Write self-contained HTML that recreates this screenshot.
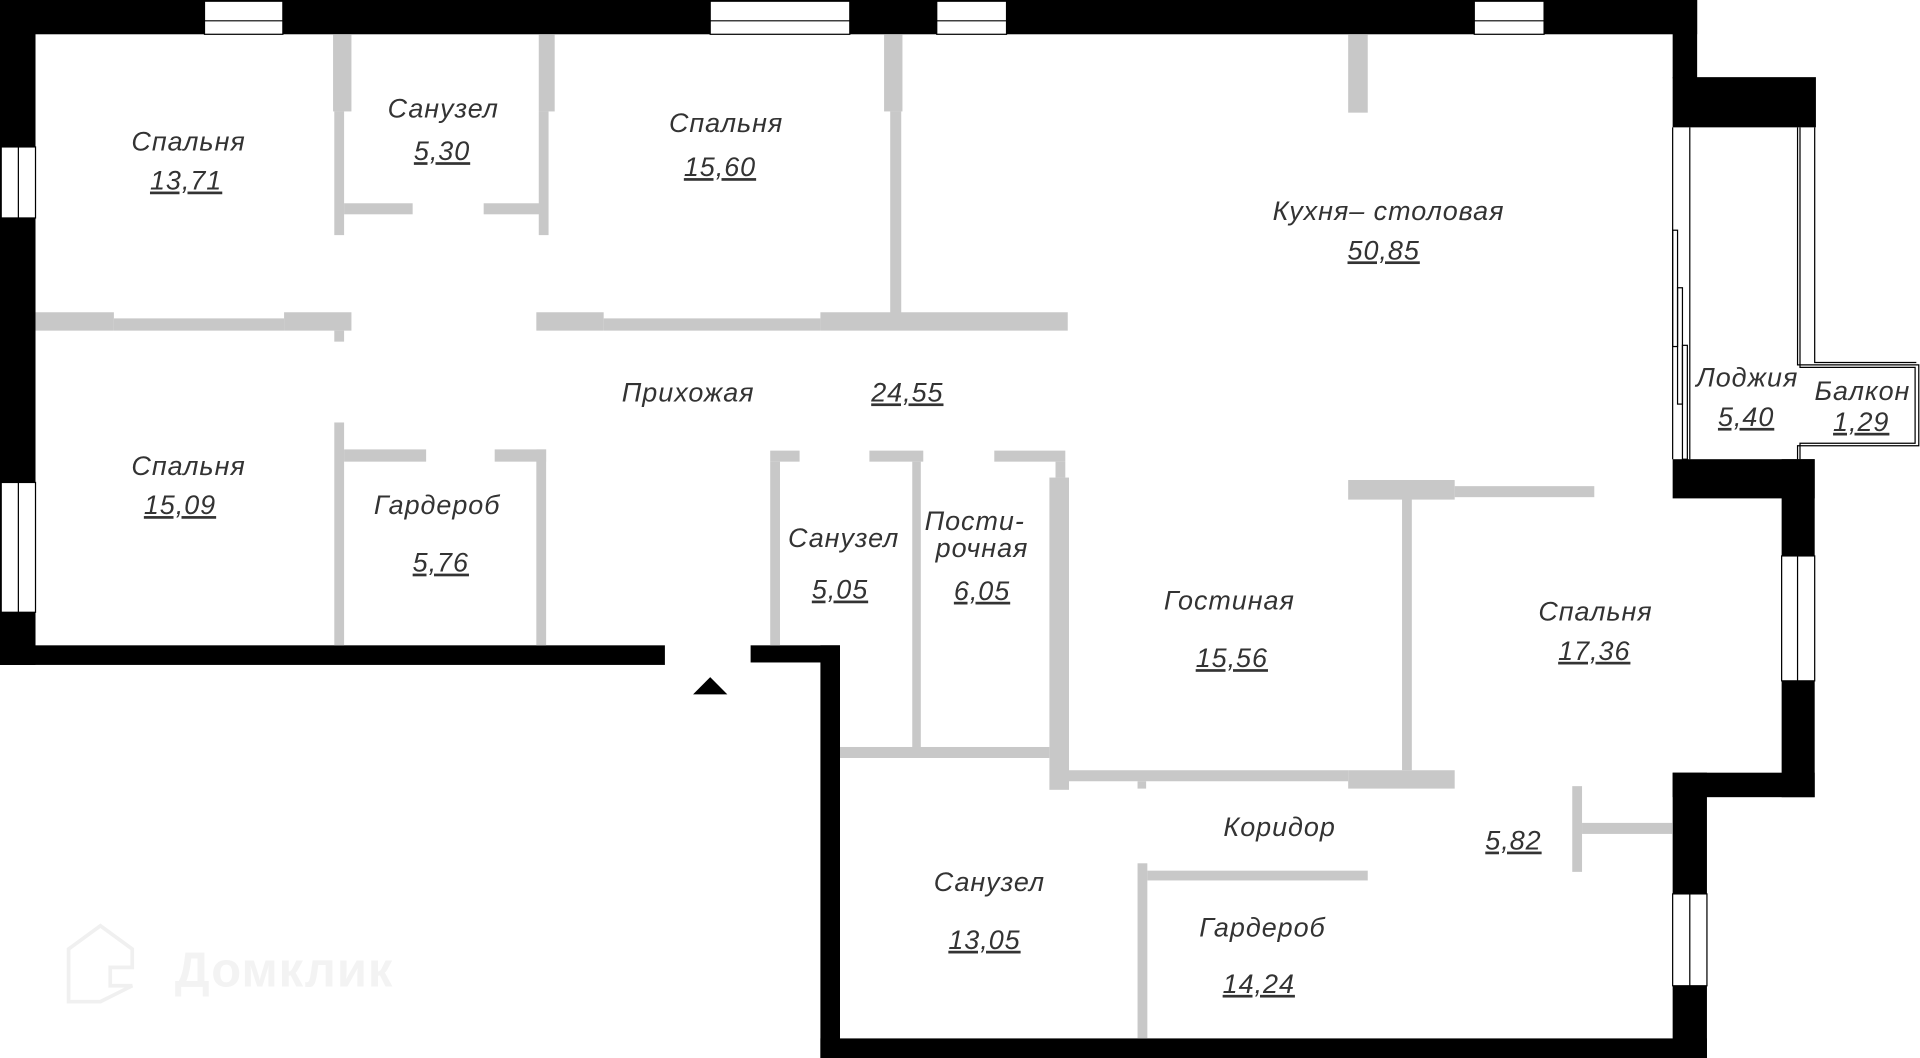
<!DOCTYPE html>
<html><head><meta charset="utf-8"><style>
html,body{margin:0;padding:0;background:#fff;width:1920px;height:1058px;overflow:hidden}
svg{display:block}
text{font-family:"Liberation Sans","DejaVu Sans",sans-serif;font-style:italic;font-size:22px;fill:#333;text-anchor:middle;dominant-baseline:middle;font-weight:normal;letter-spacing:0.8px}
.u{text-decoration:underline}
</style></head><body>
<svg width="1920" height="1058" viewBox="0 0 1568 864" preserveAspectRatio="none">
<rect width="1568" height="864" fill="#fff"/>
<g fill="#000">
<rect x="0" y="0" width="1386" height="28"/>
<rect x="1366" y="0" width="20" height="64"/>
<rect x="1366" y="63" width="117" height="41"/>
<rect x="0" y="0" width="29" height="543"/>
<rect x="0" y="527" width="543" height="16"/>
<rect x="613" y="527" width="73" height="14"/>
<rect x="670" y="527" width="16" height="337"/>
<rect x="670" y="848" width="724" height="16"/>
<rect x="1366" y="375" width="116" height="32"/>
<rect x="1455" y="375" width="27" height="276"/>
<rect x="1366" y="631" width="116" height="20"/>
<rect x="1366" y="631" width="28" height="233"/>
<polygon points="566,567 594,567 580,553"/>
</g>
<g fill="#fff" stroke="#000" stroke-width="1">
<rect x="167" y="1" width="64" height="27"/>
<rect x="580" y="1" width="114" height="27"/>
<rect x="765" y="1" width="57" height="27"/>
<rect x="1204" y="1" width="57" height="27"/>
<rect x="1" y="120" width="28" height="58"/>
<rect x="1" y="394" width="28" height="106"/>
<rect x="1455" y="454" width="27" height="102"/>
<rect x="1366" y="730" width="28" height="75"/>
</g>
<g stroke="#000" stroke-width="1">
<line x1="167" y1="17" x2="231" y2="17"/><line x1="580" y1="17" x2="694" y2="17"/>
<line x1="765" y1="17" x2="822" y2="17"/><line x1="1204" y1="17" x2="1261" y2="17"/>
<line x1="15" y1="120" x2="15" y2="178"/><line x1="15" y1="394" x2="15" y2="500"/>
<line x1="1468" y1="454" x2="1468" y2="556"/><line x1="1380" y1="730" x2="1380" y2="805"/>
</g>
<g fill="none" stroke="#000" stroke-width="1">
<line x1="1366" y1="104" x2="1366" y2="375"/>
<line x1="1380" y1="104" x2="1380" y2="375"/>
<polyline points="1468,104 1468,298 1567,298 1567,364 1468,364 1468,375"/>
<polyline points="1482,104 1482,296 1565,296"/>
<polyline points="1470,104 1470,300 1564,300 1564,362 1470,362 1470,375"/>
<rect x="1366" y="188" width="4" height="95"/>
<rect x="1370" y="235" width="4" height="95"/>
<rect x="1374" y="282" width="4" height="93"/>
</g>
<g fill="#c8c8c8">
<rect x="272" y="28" width="15" height="63"/><rect x="273" y="91" width="8" height="101"/>
<rect x="281" y="166" width="56" height="9"/><rect x="395" y="166" width="46" height="9"/>
<rect x="440" y="28" width="13" height="63"/><rect x="440" y="91" width="8" height="101"/>
<rect x="722" y="28" width="15" height="63"/><rect x="727" y="91" width="9" height="167"/>
<rect x="1101" y="28" width="16" height="64"/>
<rect x="29" y="255" width="64" height="15"/><rect x="93" y="260" width="139" height="10"/>
<rect x="232" y="255" width="55" height="15"/><rect x="273" y="270" width="8" height="9"/>
<rect x="438" y="255" width="55" height="15"/><rect x="493" y="260" width="177" height="10"/>
<rect x="670" y="255" width="202" height="15"/>
<rect x="273" y="345" width="8" height="182"/><rect x="281" y="367" width="67" height="10"/>
<rect x="404" y="367" width="42" height="10"/><rect x="438" y="367" width="8" height="160"/>
<rect x="629" y="368" width="24" height="9"/><rect x="629" y="377" width="8" height="150"/>
<rect x="710" y="368" width="44" height="9"/><rect x="745" y="377" width="7" height="235"/>
<rect x="812" y="368" width="58" height="9"/><rect x="862" y="377" width="8" height="13"/>
<rect x="857" y="390" width="16" height="255"/>
<rect x="686" y="610" width="171" height="9"/>
<rect x="873" y="629" width="228" height="9"/><rect x="929" y="638" width="7" height="6"/>
<rect x="1101" y="629" width="87" height="15"/>
<rect x="1145" y="407" width="8" height="222"/>
<rect x="1101" y="392" width="87" height="16"/><rect x="1188" y="397" width="114" height="9"/>
<rect x="1284" y="642" width="8" height="70"/><rect x="1292" y="672" width="74" height="9"/>
<rect x="929" y="705" width="8" height="143"/><rect x="937" y="711" width="180" height="8"/>
</g>
<text x="154" y="117">Спальня</text><text class="u" x="152" y="149">13,71</text>
<text x="362" y="90">Санузел</text><text class="u" x="361" y="125">5,30</text>
<text x="593" y="102">Спальня</text><text class="u" x="588" y="138">15,60</text>
<text x="1134" y="174">Кухня– столовая</text><text class="u" x="1130" y="206">50,85</text>
<text x="562" y="322">Прихожая</text><text class="u" x="741" y="322">24,55</text>
<text x="154" y="382">Спальня</text><text class="u" x="147" y="414">15,09</text>
<text x="357" y="414">Гардероб</text><text class="u" x="360" y="461">5,76</text>
<text x="689" y="441">Санузел</text><text class="u" x="686" y="483">5,05</text>
<text x="796" y="427">Пости-</text><text x="802" y="449">рочная</text><text class="u" x="802" y="484">6,05</text>
<text x="1004" y="492">Гостиная</text><text class="u" x="1006" y="539">15,56</text>
<text x="1303" y="501">Спальня</text><text class="u" x="1302" y="533">17,36</text>
<text x="1427" y="310">Лоджия</text><text class="u" x="1426" y="342">5,40</text>
<text x="1521" y="321">Балкон</text><text class="u" x="1520" y="346">1,29</text>
<text x="1045" y="677">Коридор</text><text class="u" x="1236" y="688">5,82</text>
<text x="808" y="722">Санузел</text><text class="u" x="804" y="769">13,05</text>
<text x="1031" y="759">Гардероб</text><text class="u" x="1028" y="805">14,24</text>
<g fill="none" stroke="#f0f0f0" stroke-width="3">
<path d="M56,800 L56,775 L82,756 L108,775 L108,790 L90,790 L90,805 L108,805 L82,818 L56,818 Z"/>
</g>
<text x="232" y="795" style="font-style:normal;font-weight:bold;font-size:40px;fill:#f3f3f3">Домклик</text>
</svg>
</body></html>
